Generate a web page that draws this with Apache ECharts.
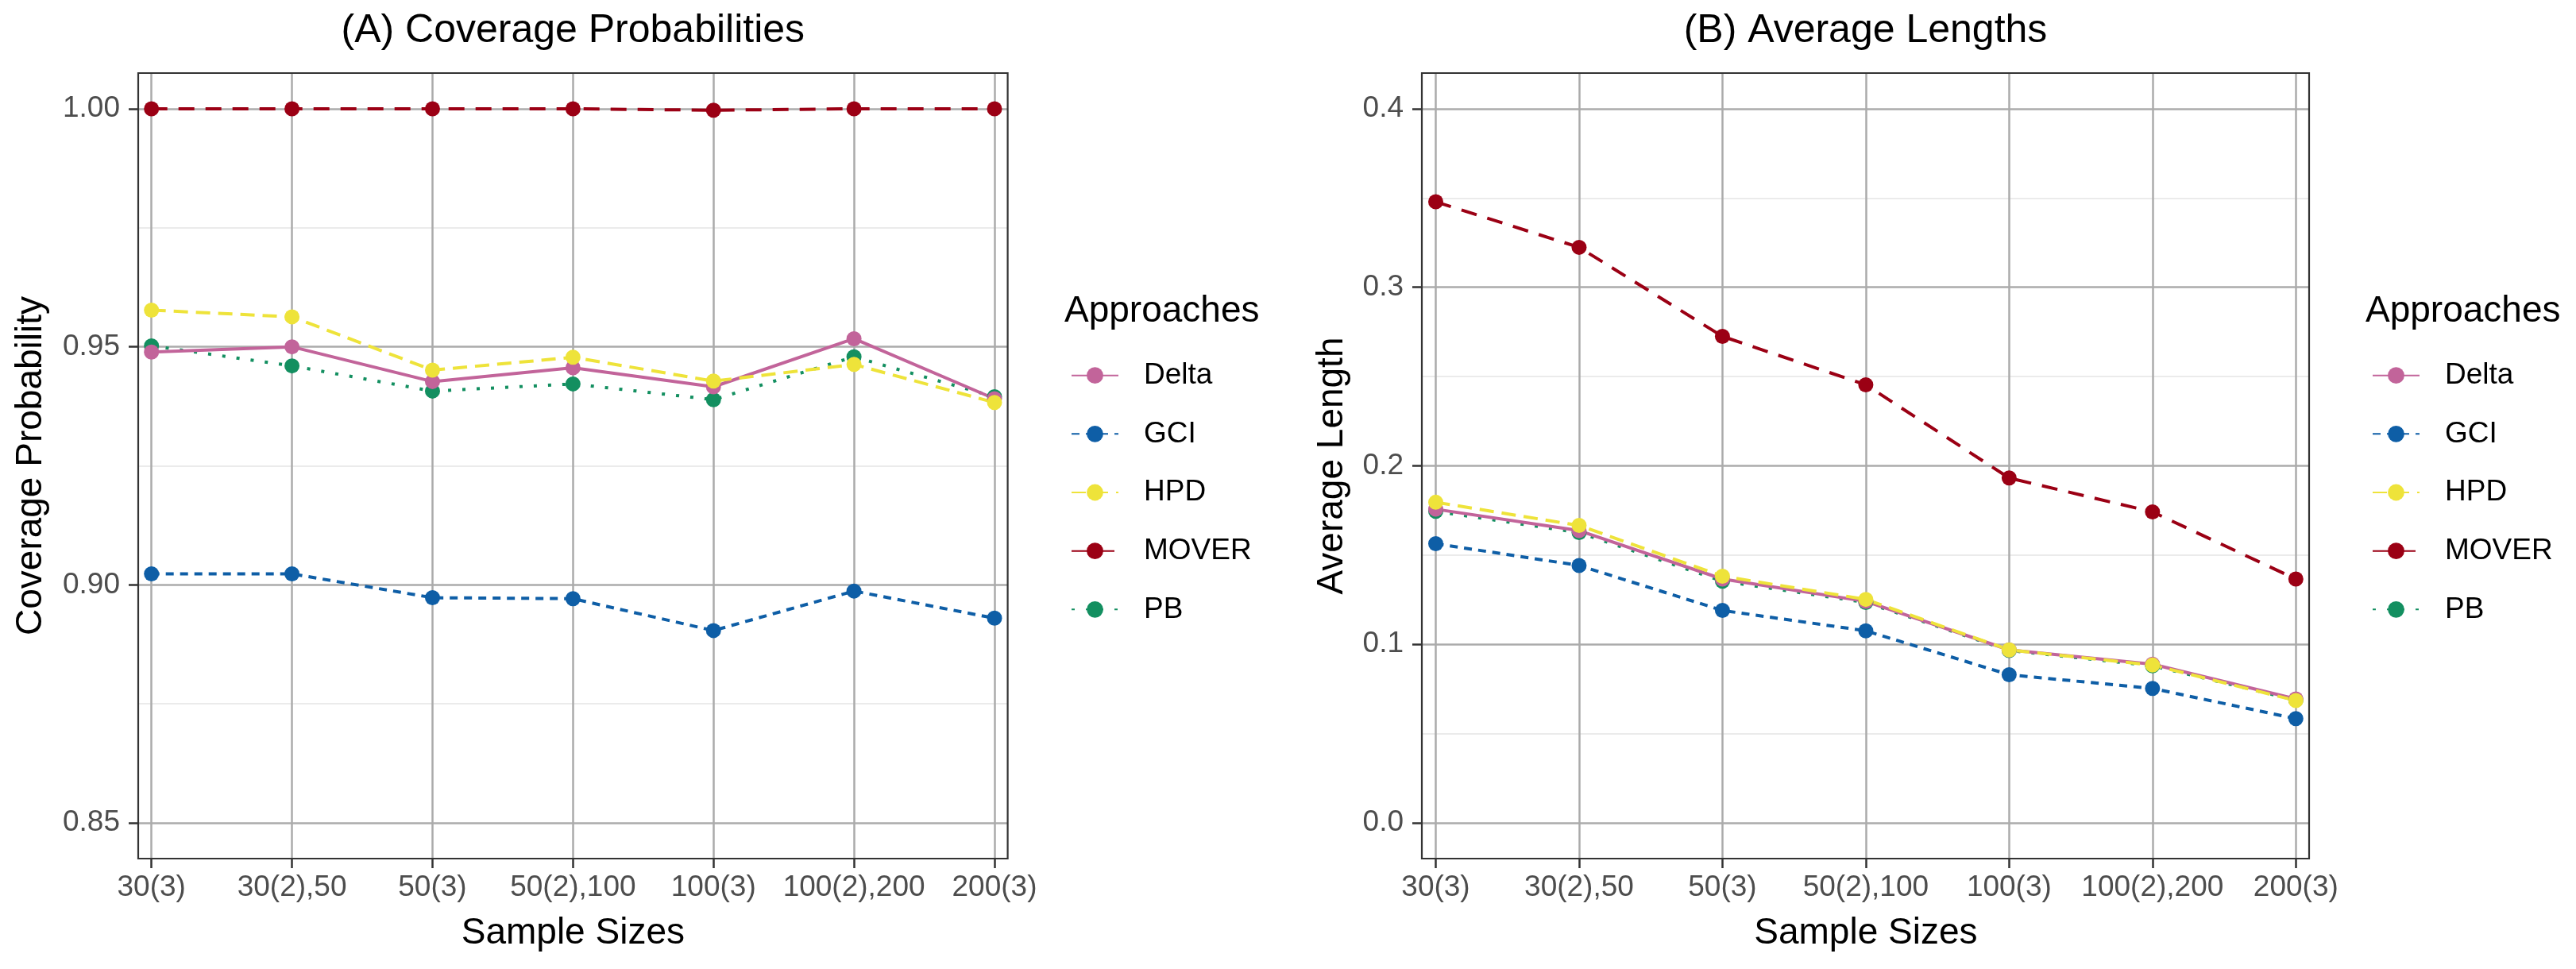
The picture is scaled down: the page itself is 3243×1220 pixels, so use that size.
<!DOCTYPE html>
<html>
<head>
<meta charset="utf-8">
<script src="https://cdn.jsdelivr.net/npm/echarts@6/dist/echarts.min.js"></script>
<style>
html,body{margin:0;padding:0;background:#ffffff;}
#c{width:3243px;height:1220px;}
</style>
</head>
<body>
<div id="c"></div>
<script>
// ---------------- DATA ----------------
const categories = ['30(3)', '30(2),50', '50(3)', '50(2),100', '100(3)', '100(2),200', '200(3)'];
const approaches = ['Delta', 'GCI', 'HPD', 'MOVER', 'PB'];

// (A) Coverage probabilities
const coverageDelta = [0.9489, 0.9500, 0.9427, 0.9456, 0.9416, 0.9517, 0.9391];
const coverageGCI   = [0.9023, 0.9023, 0.8973, 0.8971, 0.8904, 0.8987, 0.8930];
const coverageHPD   = [0.9577, 0.9563, 0.9451, 0.9478, 0.9428, 0.9463, 0.9383];
const coverageMOVER = [1.0000, 1.0000, 1.0000, 1.0000, 0.9997, 1.0000, 1.0000];
const coveragePB    = [0.9502, 0.9460, 0.9407, 0.9422, 0.9389, 0.9479, 0.9395];

// (B) Average lengths
const lengthDelta = [0.1757, 0.1637, 0.1366, 0.1241, 0.0969, 0.0889, 0.0694];
const lengthGCI   = [0.1564, 0.1442, 0.1190, 0.1076, 0.0830, 0.0753, 0.0584];
const lengthHPD   = [0.1796, 0.1666, 0.1382, 0.1252, 0.0969, 0.0884, 0.0685];
const lengthMOVER = [0.3479, 0.3224, 0.2725, 0.2454, 0.1932, 0.1742, 0.1366];
const lengthPB    = [0.1745, 0.1626, 0.1354, 0.1235, 0.0966, 0.0880, 0.0688];

// axis limits (tick ranges)
const coverageLimits = [0.85, 1.0, 0.05];
const lengthLimits   = [0.0, 0.4, 0.1];

// ---------------- STYLE ----------------
const FONT = "'Liberation Sans', Arial, sans-serif";
const styles = {
  Delta: { color: '#C2649A', dash: 'solid' },
  GCI:   { color: '#0E5EA6', dash: [10, 8] },
  HPD:   { color: '#EEE33A', dash: [18, 10] },
  MOVER: { color: '#9B0014', dash: [20, 14] },
  PB:    { color: '#138F60', dash: [4, 14] }
};
const drawOrder = ['PB', 'GCI', 'MOVER', 'Delta', 'HPD'];
const MAJOR = '#ABABAB', MINOR = '#EBEBEB', DARK = '#333333', TICKTXT = '#4D4D4D';

const PANEL_TOP = 92, PANEL_H = 989, EXPAND = 0.05;

const panels = [
  { frameLeft: 174, frameW: 1094.6, dataLeft: 190.7, dataW: 1061.3,
    limits: coverageLimits, digits: 2, yName: 'Coverage Probability', yNameGap: 112,
    title: '(A) Coverage Probabilities', legendLeft: 1348, legendTitleLeft: 1340,
    values: { Delta: coverageDelta, GCI: coverageGCI, HPD: coverageHPD, MOVER: coverageMOVER, PB: coveragePB } },
  { frameLeft: 1790, frameW: 1117, dataLeft: 1807.5, dataW: 1082.8,
    limits: lengthLimits, digits: 1, yName: 'Average Length', yNameGap: 89.5,
    title: '(B) Average Lengths', legendLeft: 2986, legendTitleLeft: 2978,
    values: { Delta: lengthDelta, GCI: lengthGCI, HPD: lengthHPD, MOVER: lengthMOVER, PB: lengthPB } }
];

const grid = [], xAxis = [], yAxis = [], series = [], legend = [], graphic = [];

panels.forEach((p, i) => {
  const base = grid.length;
  const [lo, hi, step] = p.limits;
  const pad = (hi - lo) * EXPAND;
  const ygTop = PANEL_TOP + PANEL_H * EXPAND / (1 + 2 * EXPAND);
  const ygH = PANEL_H / (1 + 2 * EXPAND);

  // frame (panel border)
  grid.push({ left: p.frameLeft, top: PANEL_TOP, width: p.frameW, height: PANEL_H,
    show: true, borderColor: DARK, borderWidth: 2.2, backgroundColor: 'rgba(0,0,0,0)', z: 3 });
  // y grid (ticks, labels, horizontal grid lines)
  grid.push({ left: p.frameLeft, top: ygTop, width: p.frameW, height: ygH });
  // data grid (x axis + series)
  grid.push({ left: p.dataLeft, top: PANEL_TOP, width: p.dataW, height: PANEL_H });

  xAxis.push({ gridIndex: base, type: 'value', show: false, min: 0, max: 1 });
  yAxis.push({ gridIndex: base, type: 'value', show: false, min: 0, max: 1 });

  xAxis.push({ gridIndex: base + 1, type: 'value', show: false, min: 0, max: 1 });
  yAxis.push({
    gridIndex: base + 1, type: 'value', min: lo, max: hi, interval: step,
    axisLine: { show: false, onZero: false },
    axisTick: { show: true, length: 12, lineStyle: { color: DARK, width: 2.5 } },
    axisLabel: { margin: 23, fontSize: 37, color: TICKTXT, fontFamily: FONT,
      formatter: v => Number(v).toFixed(p.digits) },
    splitLine: { show: true, lineStyle: { color: MAJOR, width: 2.5 } },
    minorTick: { show: false, splitNumber: 2 },
    minorSplitLine: { show: true, lineStyle: { color: MINOR, width: 2 } },
    name: p.yName, nameLocation: 'middle', nameGap: p.yNameGap,
    nameTextStyle: { fontSize: 46, color: '#000000', fontFamily: FONT }
  });

  xAxis.push({
    gridIndex: base + 2, type: 'category', data: categories, boundaryGap: false,
    position: 'bottom',
    axisLine: { show: false, onZero: false },
    axisTick: { show: true, length: 12, interval: 0, lineStyle: { color: DARK, width: 2.5 } },
    axisLabel: { margin: 18, interval: 0, fontSize: 37, color: TICKTXT, fontFamily: FONT },
    splitLine: { show: true, interval: 0, lineStyle: { color: MAJOR, width: 2.5 } },
    name: 'Sample Sizes', nameLocation: 'middle', nameGap: 71.6,
    nameTextStyle: { fontSize: 46, color: '#000000', fontFamily: FONT, verticalAlign: 'top' }
  });
  yAxis.push({ gridIndex: base + 2, type: 'value', show: false, min: lo - pad, max: hi + pad,
    axisLine: { onZero: false } });

  drawOrder.forEach(name => {
    const st = styles[name];
    series.push({
      type: 'line', name: name,
      xAxisIndex: base + 2, yAxisIndex: base + 2,
      data: p.values[name],
      symbol: 'circle', symbolSize: 19, showSymbol: true,
      lineStyle: { color: st.color, width: 4, type: st.dash },
      itemStyle: { color: st.color },
      emphasis: { disabled: true },
      animation: false, clip: false, z: 5
    });
  });

  legend.push({
    data: approaches, orient: 'vertical', left: p.legendLeft, top: 452.7,
    itemWidth: 59, itemHeight: 26, itemGap: 33.65, padding: 0, selectedMode: false,
    textStyle: { fontSize: 37, color: '#000000', fontFamily: FONT, lineHeight: 40, padding: [0, 0, 0, 27] }
  });

  graphic.push({ type: 'text', x: p.frameLeft + p.frameW / 2, y: 39.7, silent: true,
    style: { text: p.title, fill: '#000000', fontSize: 50, fontFamily: FONT, align: 'center', verticalAlign: 'middle' } });
  graphic.push({ type: 'text', x: p.legendTitleLeft, y: 392.4, silent: true,
    style: { text: 'Approaches', fill: '#000000', fontSize: 46, fontFamily: FONT, align: 'left', verticalAlign: 'middle' } });
});

const chart = echarts.init(document.getElementById('c'), null, { renderer: 'canvas', width: 3243, height: 1220 });
chart.setOption({
  backgroundColor: '#ffffff',
  animation: false,
  textStyle: { fontFamily: FONT },
  grid, xAxis, yAxis, series, legend, graphic
});
</script>
</body>
</html>
